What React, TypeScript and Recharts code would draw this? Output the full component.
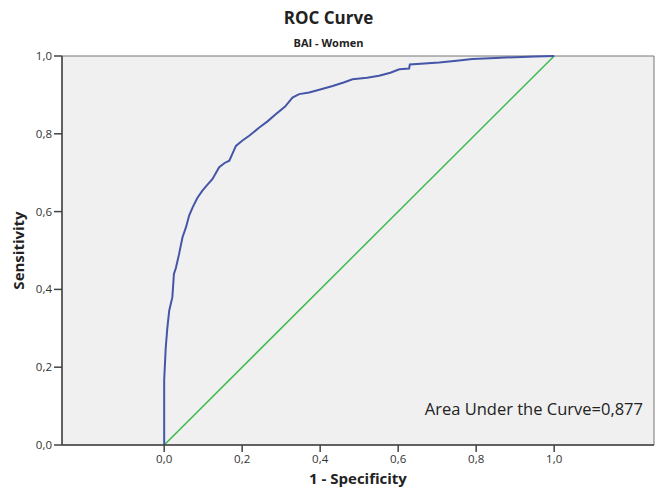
import React from 'react';
import {ComposedChart, Line, XAxis, YAxis, ReferenceArea} from 'recharts';

// ROC points: 1 - specificity, sensitivity
const fpr = [0, 0, 0.004, 0.008, 0.013, 0.021, 0.025, 0.03, 0.038, 0.047, 0.056, 0.064, 0.073, 0.085, 0.098, 0.11, 0.124, 0.141, 0.155, 0.167, 0.184, 0.2, 0.218, 0.244, 0.265, 0.286, 0.31, 0.329, 0.346, 0.372, 0.4, 0.432, 0.46, 0.483, 0.52, 0.551, 0.58, 0.603, 0.628, 0.63, 0.705, 0.75, 0.79, 0.85, 0.9, 0.95, 1.0];
const tpr = [0, 0.167, 0.25, 0.3, 0.346, 0.38, 0.44, 0.455, 0.49, 0.534, 0.56, 0.59, 0.611, 0.635, 0.654, 0.668, 0.684, 0.714, 0.725, 0.731, 0.769, 0.782, 0.795, 0.816, 0.832, 0.85, 0.87, 0.893, 0.902, 0.906, 0.914, 0.923, 0.932, 0.94, 0.944, 0.949, 0.957, 0.966, 0.968, 0.978, 0.983, 0.988, 0.992, 0.995, 0.997, 0.999, 1.0];
const refX = [0, 1];
const refY = [0, 1];
const xTicks = [0, 0.2, 0.4, 0.6, 0.8, 1.0];
const yTicks = [0, 0.2, 0.4, 0.6, 0.8, 1.0];
const aucText = 'Area Under the Curve=0,877';

const rocData = fpr.map((x, i) => ({x, y: tpr[i]}));
const refData = refX.map((x, i) => ({x, y: refY[i]}));

const xMin = -0.262;
const xMax = 1.256;
const fmt = (v: number) => v.toFixed(1).replace('.', ',');
const font = '"Open Sans", sans-serif';

export default function App() {
	return <div style={{position: 'relative', width: 657, height: 494, fontFamily: font}}>
		<style>{'body{margin:0}'}</style>
		<div style={{position: 'absolute', top: 6, left: 0, width: 657, textAlign: 'center', fontSize: 17, fontWeight: 700, color: '#222'}}>ROC Curve</div>
		<div style={{position: 'absolute', top: 35, left: 0, width: 657, textAlign: 'center', fontSize: 11, fontWeight: 700, color: '#222'}}>BAI - Women</div>
		<ComposedChart width={657} height={494} margin={{top: 56, right: 3, bottom: 19, left: 10}}>
			<XAxis dataKey="x" type="number" domain={[xMin, xMax]} allowDataOverflow ticks={xTicks}
				tickFormatter={fmt} tickSize={7} tickMargin={3} height={30}
				stroke="#444" strokeWidth={1.5} tick={{fill: '#333', fontSize: 11.5, fontFamily: font}}
				label={{value: '1 - Specificity', position: 'bottom', offset: -2, fill: '#222', fontSize: 15, fontWeight: 700, fontFamily: font}}/>
			<YAxis dataKey="y" type="number" domain={[0, 1]} ticks={yTicks} tickFormatter={fmt}
				tickSize={8} tickMargin={2} width={52} stroke="#444" strokeWidth={1.5}
				tick={{fill: '#333', fontSize: 11.5, fontFamily: font}}
				label={{value: 'Sensitivity', angle: -90, position: 'insideLeft', offset: 9, fill: '#222', fontSize: 15, fontWeight: 700, fontFamily: font, style: {textAnchor: 'middle'}}}/>
			<ReferenceArea x1={xMin} x2={xMax} y1={0} y2={1} fill="#f0f0f0" fillOpacity={1} stroke="#777" strokeWidth={1}/>
			<Line data={refData} dataKey="y" type="linear" stroke="#3dba4e" strokeWidth={1.5} dot={false} isAnimationActive={false}/>
			<Line data={rocData} dataKey="y" type="linear" stroke="#4556a8" strokeWidth={2} dot={false} isAnimationActive={false}/>
		</ComposedChart>
		<div style={{position: 'absolute', top: 397, right: 14, fontSize: 16.5, color: '#222'}}>{aucText}</div>
	</div>;
}
